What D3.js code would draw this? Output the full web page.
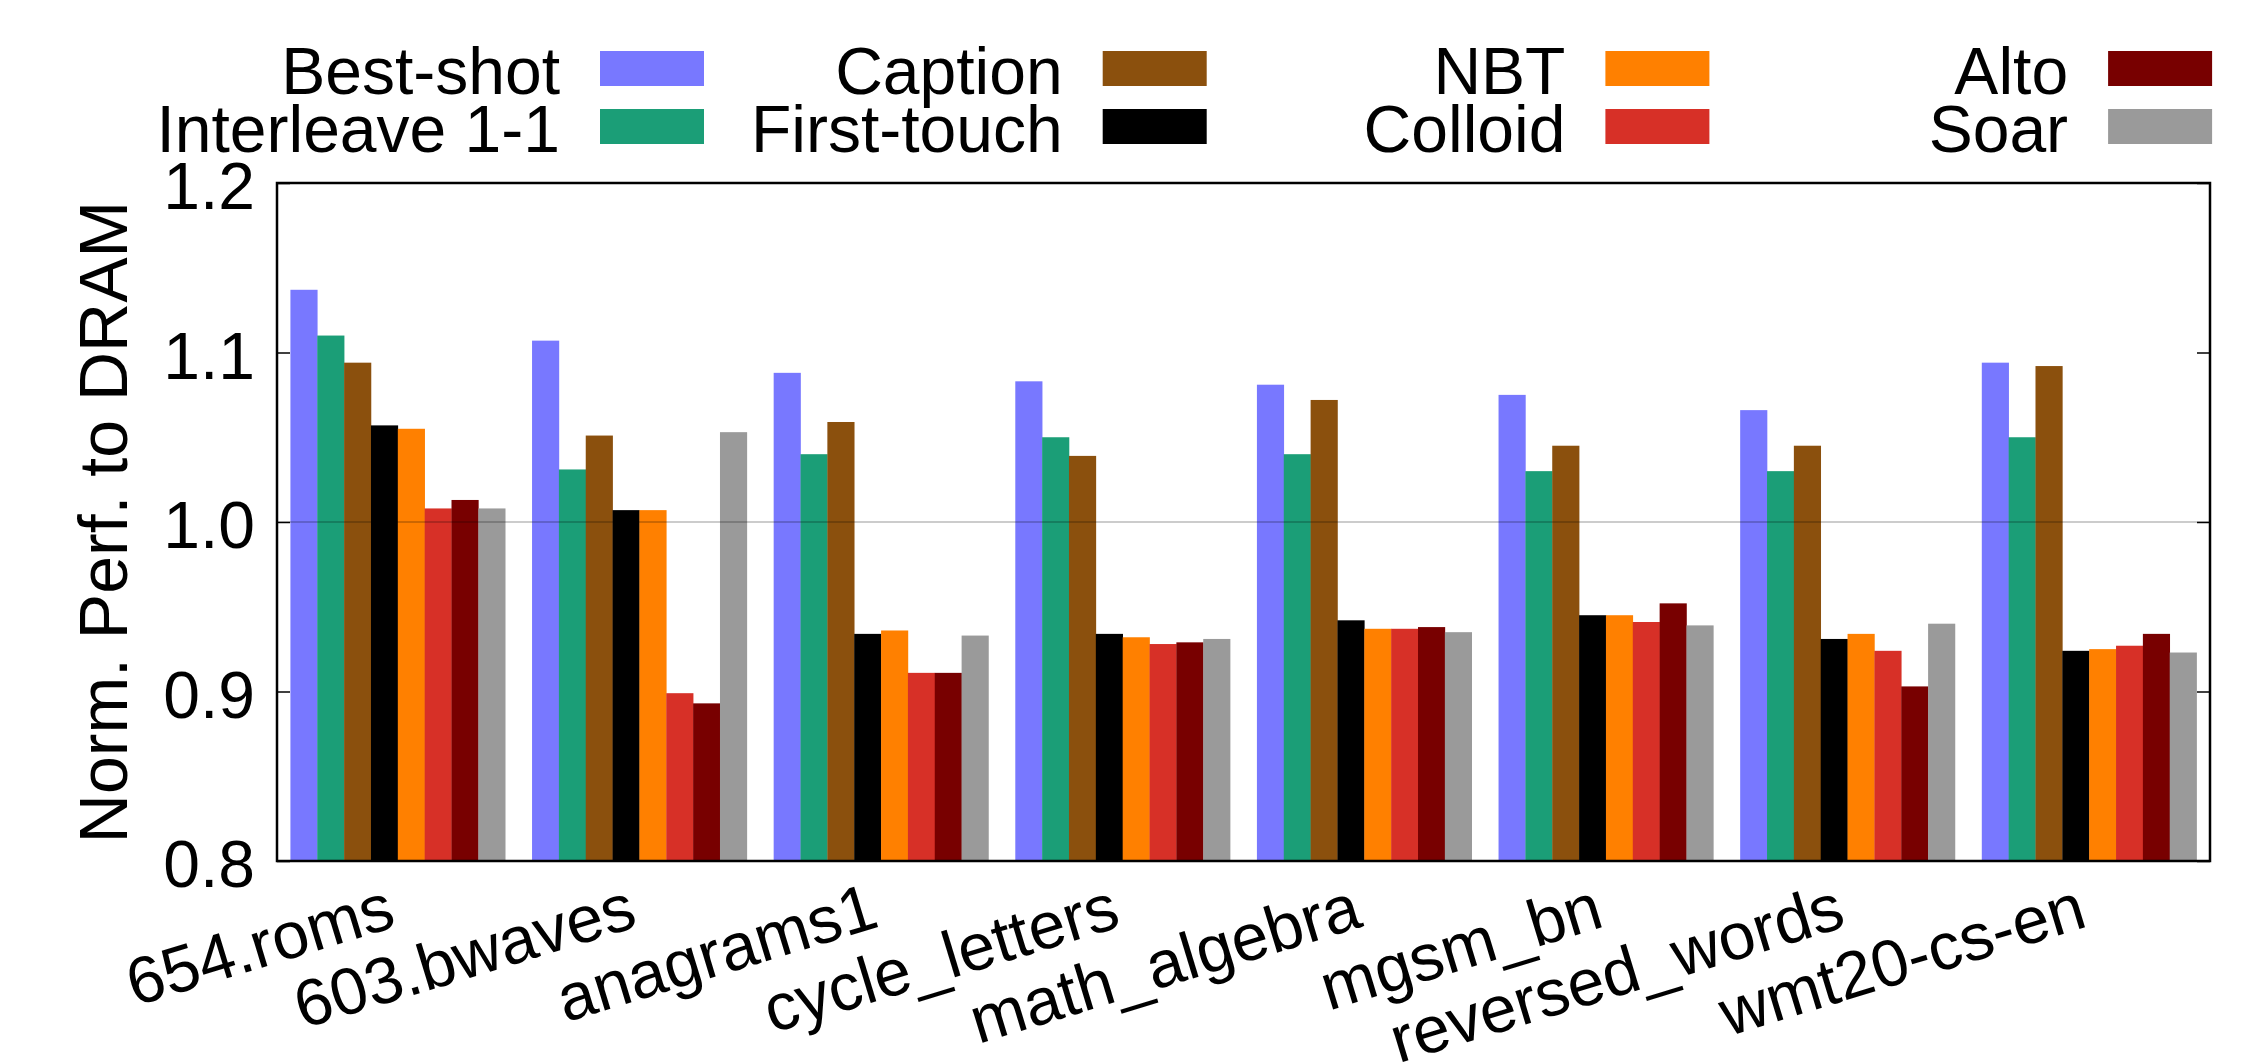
<!DOCTYPE html>
<html>
<head>
<meta charset="utf-8">
<script src="https://cdn.jsdelivr.net/npm/d3@7"></script>
<style>
  body { margin: 0; background: #fff; }
  text { font-family: "Liberation Sans", Arial, Helvetica, sans-serif; fill: #000; }
</style>
</head>
<body>
<div id="chart"></div>
<script>
// chart size
const width = 2267;
const height = 1062;
const marginTop = 183;
const marginRight = 57;
const marginBottom = 201;
const marginLeft = 277;

// benchmarks on the x axis
const workloads = ["654.roms", "603.bwaves", "anagrams1", "cycle_letters",
  "math_algebra", "mgsm_bn", "reversed_words", "wmt20-cs-en"];

// one array per policy, same order as workloads
const bestShot    = [1.137, 1.107, 1.088, 1.083, 1.081, 1.075, 1.066, 1.094];
const interleave  = [1.110, 1.031, 1.040, 1.050, 1.040, 1.030, 1.030, 1.050];
const caption     = [1.094, 1.051, 1.059, 1.039, 1.072, 1.045, 1.045, 1.092];
const firstTouch  = [1.057, 1.007, 0.934, 0.934, 0.942, 0.945, 0.931, 0.924];
const nbt         = [1.055, 1.007, 0.936, 0.932, 0.937, 0.945, 0.934, 0.925];
const colloid     = [1.008, 0.899, 0.911, 0.928, 0.937, 0.941, 0.924, 0.927];
const alto        = [1.013, 0.893, 0.911, 0.929, 0.938, 0.952, 0.903, 0.934];
const soar        = [1.008, 1.053, 0.933, 0.931, 0.935, 0.939, 0.940, 0.923];

const seriesNames = ["Best-shot", "Interleave 1-1", "Caption", "First-touch",
  "NBT", "Colloid", "Alto", "Soar"];
const seriesValues = [bestShot, interleave, caption, firstTouch, nbt, colloid, alto, soar];
const colors = ["#7878ff", "#1b9e77", "#8b500d", "#000000",
  "#ff8000", "#d73027", "#780000", "#9a9a9a"];

const yTicks = [0.8, 0.9, 1.0, 1.1, 1.2];

const svg = d3.select("#chart").append("svg")
  .attr("width", width)
  .attr("height", height);

// groups: each holds 8 bars plus one empty slot
const x0 = d3.scaleBand()
  .domain(workloads)
  .range([marginLeft, width - marginRight])
  .paddingInner(1 / 9)
  .paddingOuter(0.5 / 9);

const x1 = d3.scaleBand()
  .domain(seriesNames)
  .range([0, x0.bandwidth()]);

const y = d3.scaleLinear()
  .domain([0.8, 1.2])
  .range([height - marginBottom, marginTop]);

const color = d3.scaleOrdinal(seriesNames, colors);

// bars
const groups = svg.append("g")
  .selectAll("g")
  .data(workloads)
  .join("g")
    .attr("transform", d => `translate(${x0(d)},0)`);

groups.selectAll("rect")
  .data((w, i) => seriesNames.map((s, j) => ({ series: s, value: seriesValues[j][i] })))
  .join("rect")
    .attr("x", d => x1(d.series))
    .attr("y", d => y(d.value))
    .attr("width", x1.bandwidth() + 0.3)
    .attr("height", d => y(0.8) - y(d.value))
    .attr("fill", d => color(d.series));

// reference line at 1.0, drawn on top of the bars
svg.append("line")
  .attr("x1", marginLeft)
  .attr("x2", width - marginRight)
  .attr("y1", y(1.0))
  .attr("y2", y(1.0))
  .attr("stroke", "#000")
  .attr("stroke-opacity", 0.2)
  .attr("stroke-width", 2);

// y axis, ticks inside the frame (and mirrored on the right)
const yAxis = svg.append("g")
  .attr("transform", `translate(${marginLeft},0)`)
  .call(d3.axisRight(y).tickValues(yTicks).tickSize(13).tickFormat(""))
  .call(g => g.select(".domain").remove())
  .call(g => g.selectAll(".tick line").attr("stroke-width", 1.5));

svg.append("g")
  .attr("transform", `translate(${width - marginRight},0)`)
  .call(d3.axisLeft(y).tickValues(yTicks).tickSize(13).tickFormat(""))
  .call(g => g.select(".domain").remove())
  .call(g => g.selectAll(".tick line").attr("stroke-width", 1.5));

svg.append("g")
  .selectAll("text")
  .data(yTicks)
  .join("text")
    .attr("x", marginLeft - 22)
    .attr("y", d => y(d))
    .attr("dy", "0.4em")
    .attr("text-anchor", "end")
    .attr("font-size", 66)
    .text(d3.format(".1f"));

// frame
svg.append("rect")
  .attr("x", marginLeft)
  .attr("y", marginTop)
  .attr("width", width - marginLeft - marginRight)
  .attr("height", height - marginTop - marginBottom)
  .attr("fill", "none")
  .attr("stroke", "#000")
  .attr("stroke-width", 2.5);

// rotated x labels, right end under the group centre
svg.append("g")
  .selectAll("text")
  .data(workloads)
  .join("text")
    .attr("transform", d => `translate(${x0(d) + x0.bandwidth() / 2},926) rotate(-17)`)
    .attr("text-anchor", "end")
    .attr("font-size", 66)
    .text(d => d);

// y label
svg.append("text")
  .attr("transform", `translate(127,${(marginTop + height - marginBottom) / 2}) rotate(-90)`)
  .attr("text-anchor", "middle")
  .attr("font-size", 68)
  .text("Norm. Perf. to DRAM");

// legend: 4 columns x 2 rows
const legend = svg.append("g")
  .selectAll("g")
  .data(seriesNames)
  .join("g")
    .attr("transform", (d, i) => `translate(${600 + Math.floor(i / 2) * 502.7},${51 + (i % 2) * 58})`);

legend.append("rect")
  .attr("width", 104)
  .attr("height", 35)
  .attr("fill", d => color(d));

legend.append("text")
  .attr("x", -40)
  .attr("y", 43)
  .attr("text-anchor", "end")
  .attr("font-size", 66)
  .text(d => d);
</script>
</body>
</html>
